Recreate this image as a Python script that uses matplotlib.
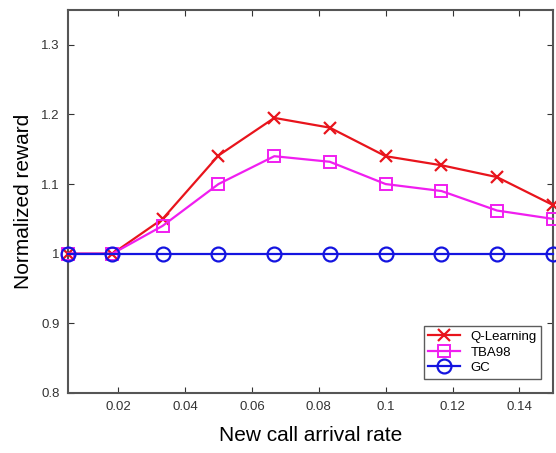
import numpy as np
import matplotlib.pyplot as plt

plt.rcParams['font.family'] = ['Liberation Sans', 'DejaVu Sans']

rate = [0.005, 0.0183, 0.0333, 0.05, 0.0667, 0.0833, 0.1, 0.1167, 0.1333, 0.15]
q_learning = [1.0, 1.0, 1.05, 1.141, 1.195, 1.181, 1.14, 1.127, 1.11, 1.07]
tba98 = [1.0, 1.0, 1.04, 1.10, 1.14, 1.132, 1.10, 1.09, 1.062, 1.05]
gc = [1.0] * 10

xticks = [0.02, 0.04, 0.06, 0.08, 0.1, 0.12, 0.14]
xticklabels = ['0.02', '0.04', '0.06', '0.08', '0.1', '0.12', '0.14']
yticks = [0.8, 0.9, 1.0, 1.1, 1.2, 1.3]
yticklabels = ['0.8', '0.9', '1', '1.1', '1.2', '1.3']

fig = plt.figure(figsize=(5.56, 4.53), dpi=100)
ax = fig.add_axes([0.1223, 0.1325, 0.872, 0.8455])

ax.plot(rate, q_learning, color='#e8141c', marker='x', markersize=8, mew=1.6,
        lw=1.6, label='Q-Learning', clip_on=False, zorder=3)
ax.plot(rate, tba98, color='#f01ef0', marker='s', markersize=8, mfc='none',
        mew=1.4, lw=1.6, label='TBA98', clip_on=False, zorder=3)
ax.plot(rate, gc, color='#1414e0', marker='o', markersize=10, mfc='none',
        mew=1.6, lw=1.6, label='GC', clip_on=False, zorder=4)

ax.set_xlim(0.005, 0.15)
ax.set_ylim(0.8, 1.35)
ax.set_xticks(xticks)
ax.set_xticklabels(xticklabels)
ax.set_yticks(yticks)
ax.set_yticklabels(yticklabels)
ax.tick_params(direction='in', top=True, right=True, labelsize=9.5,
               colors='#333333', length=4, pad=6)
for s in ax.spines.values():
    s.set_color('#555555')
    s.set_linewidth(1.5)

ax.set_xlabel('New call arrival rate', fontsize=15, labelpad=9)
ax.set_ylabel('Normalized reward', fontsize=15, labelpad=6)

leg = ax.legend(loc='lower right', fontsize=9.5, fancybox=False, edgecolor='#333333',
                borderpad=0.35, handlelength=2.4, labelspacing=0.25,
                bbox_to_anchor=(0.99, 0.02))
leg.get_frame().set_linewidth(1.0)

plt.savefig('out.png')
